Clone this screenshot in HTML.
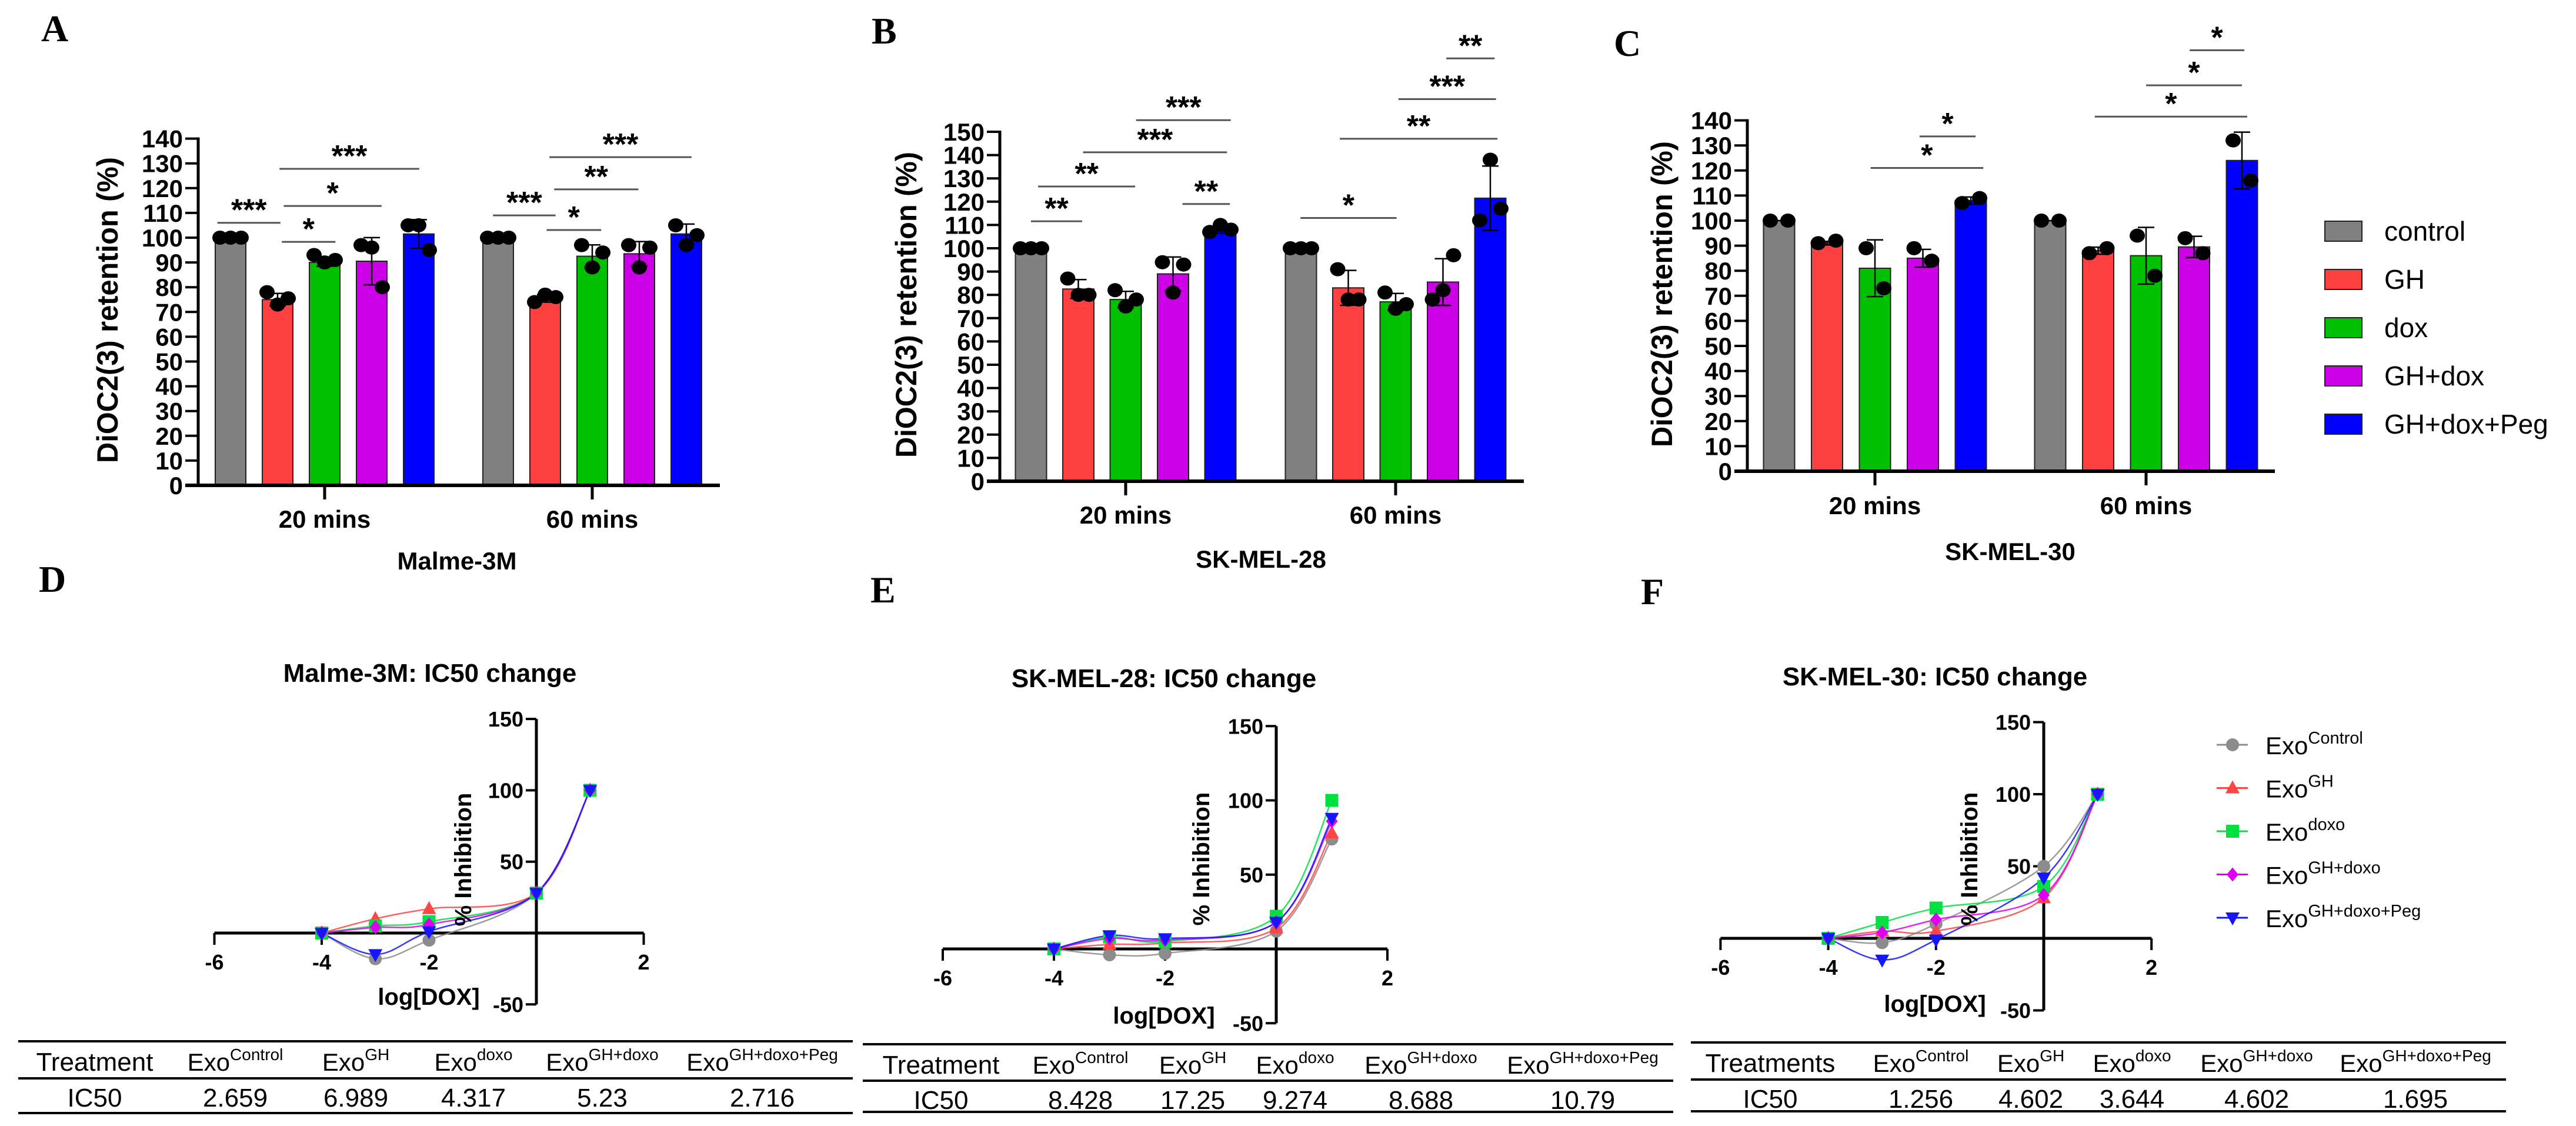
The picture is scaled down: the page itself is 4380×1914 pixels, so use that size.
<!DOCTYPE html>
<html><head><meta charset="utf-8">
<style>
html,body{margin:0;padding:0;background:#fff;}
svg{display:block;font-family:"Liberation Sans",Arial,sans-serif;}
</style></head>
<body>
<svg id="fig" xmlns="http://www.w3.org/2000/svg" width="4380" height="1914" viewBox="0 0 4380 1914">
<rect x="0" y="0" width="4380" height="1914" fill="#fff"/>
<g font-family="Liberation Serif, serif" font-weight="bold" font-size="64">
<text x="70" y="70">A</text>
<text x="1482" y="74">B</text>
<text x="2744" y="95">C</text>
<text x="66" y="1006">D</text>
<text x="1480" y="1024">E</text>
<text x="2790" y="1027">F</text>
</g>
</svg>
<script>
// ---------- DATA ----------
const groups = ['20 mins', '60 mins'];
const seriesNames = ['control', 'GH', 'dox', 'GH+dox', 'GH+dox+Peg'];
const barColors = ['#808080', '#ff4040', '#00c000', '#cc00e6', '#0000ff'];

const aMeans = [[100, 75, 90, 90.5, 101.5], [100, 75.5, 92.5, 93.5, 101.5]];
const aPoints = [
  [[100,100,100],[78,73,75.5],[93,90,91],[97,96,80],[105,105,95]],
  [[100,100,100],[74,77,76],[97,88,94],[97,88,96],[105,97,101]]
];
const aSigs = [
  [0,-0.28,1.06,106,'***'],[0,1.09,2.23,98.3,'*'],[0,1.13,3.21,112.8,'*'],[0,1.04,4.01,127.8,'***'],
  [1,-0.11,1.22,109,'***'],[1,1.03,2.19,103.1,'*'],[1,1.19,2.98,119.5,'**'],[1,1.09,4.11,132.5,'***']
];
const aTicks = [0,10,20,30,40,50,60,70,80,90,100,110,120,130,140];

const bMeans = [[100, 82.5, 78, 89, 108], [100, 83, 77, 85.5, 121.5]];
const bPoints = [
  [[100,100,100],[87,80,80],[82,75,78],[94,81,93],[107,110,108]],
  [[100,100,100],[91,78,78],[81,74,76],[78,82,97],[112,138,117]]
];
const bSigs = [
  [0,0.0,1.08,111.6,'**'],[0,0.15,2.2,126.5,'**'],[0,1.1,4.14,141.2,'***'],[0,2.22,4.22,155,'***'],[0,3.2,4.2,119,'**'],
  [1,-0.01,2.02,113,'*'],[1,0.82,4.15,147,'**'],[1,2.06,4.12,164,'***'],[1,3.07,4.09,181.5,'**']
];
const bTicks = [0,10,20,30,40,50,60,70,80,90,100,110,120,130,140,150];

const cMeans = [[100, 91, 81, 85, 108], [100, 88, 86, 89.5, 124]];
const cPoints = [
  [[100,100],[91,92],[89,73],[89,84],[107,109]],
  [[100,100],[87,89],[94,78],[93,87],[132,116]]
];
const cSigs = [
  [0,1.91,4.26,121,'*'],[0,2.93,4.1,133.6,'*'],
  [1,0.93,4.11,141.5,'*'],[1,2.0,4.0,154,'*'],[1,2.91,4.05,168,'*']
];
const cTicks = [0,10,20,30,40,50,60,70,80,90,100,110,120,130,140];

const doseLog = [-4, -3, -2, 0, 1];
const curveNames = ['Control','GH','doxo','GH+doxo','GH+doxo+Peg'];
const curveColors = ['#8c8c8c','#ff4545','#00e040','#dd00ee','#1515ff'];
const dVals = [[0,-18,-5,28,100],[0,10,17,28,100],[0,5,8,28,100],[0,4,6,28,100],[0,-15,1,28,100]];
const eVals = [[0,-4,-3,12,74],[0,3,4,14,78],[0,8,5,22,100],[0,7,6,18,86],[0,9,7,18,88]];
const fVals = [[0,-3,10,50,100],[0,5,5,28,100],[0,11,21,36,100],[0,4,13,30,100],[0,-15,-1,42,100]];
const lineYTicks = [-50, 50, 100, 150];
const lineXTicks = [-6, -4, -2, 2];

const tableHeads = ['Control','GH','doxo','GH+doxo','GH+doxo+Peg'];
const dIC50 = ['2.659','6.989','4.317','5.23','2.716'];
const eIC50 = ['8.428','17.25','9.274','8.688','10.79'];
const fIC50 = ['1.256','4.602','3.644','4.602','1.695'];

// ---------- HELPERS ----------
const NS = 'http://www.w3.org/2000/svg';
const svg = document.getElementById('fig');
function mk(tag, attrs, parent, txt) {
  const e = document.createElementNS(NS, tag);
  for (const k in attrs) e.setAttribute(k, attrs[k]);
  if (txt !== undefined) e.textContent = txt;
  (parent || svg).appendChild(e);
  return e;
}
function sd(a){const m=a.reduce((s,v)=>s+v,0)/a.length;if(a.length<2)return 0;return Math.sqrt(a.reduce((s,v)=>s+(v-m)*(v-m),0)/(a.length-1));}

// ---------- BAR PANELS ----------
function barPanel(cfg, means, points, sigs, ticks) {
  const g = mk('g', {});
  
  
  const yS = v => cfg.y0 - v * cfg.unit;
  const xS = (gi, pos) => cfg.gcs[gi] + (pos - 2) * cfg.pitch;
  // y ticks
  ticks.forEach(t => {
    const tk = mk('line', {x1: cfg.ax - 22, x2: cfg.ax, y1: yS(t), y2: yS(t), stroke: '#000', 'stroke-width': 4}, g);
    
    
    const tl = mk('text', {x: cfg.ax - 26, y: yS(t) + 15, 'text-anchor': 'end', 'font-size': 42, 'font-weight': 'bold'}, g, String(t));
    
    
  });
  // bars
  means.forEach((row, gi) => {
    row.forEach((v, si) => {
      const cx = xS(gi, si);
      const b = mk('rect', {x: cx - cfg.w / 2, y: yS(v), width: cfg.w, height: yS(0) - yS(v), fill: barColors[si], stroke: '#222', 'stroke-width': 2}, g);
      
      
      const pts = points[gi][si];
      const s = sd(pts);
      const eb = mk('path', {d: `M${cx} ${yS(v - s)}V${yS(v + s)}M${cx - 14} ${yS(v + s)}H${cx + 14}M${cx - 14} ${yS(v - s)}H${cx + 14}`, stroke: '#000', 'stroke-width': 2.5, fill: 'none'}, g);
      
      
      pts.forEach((p, pi) => {
        const off = pts.length === 3 ? (pi - 1) * 18 : (pi - 0.5) * 30;
        const d = mk('ellipse', {cx: cx + off, cy: yS(p), rx: 13, ry: 12, fill: '#000'}, g);
        
        
      });
    });
    const ct = mk('line', {x1: cfg.gcs[gi], x2: cfg.gcs[gi], y1: yS(0), y2: yS(0) + 24, stroke: '#000', 'stroke-width': 5}, g);
    
    
    const cl = mk('text', {x: cfg.gcs[gi], y: cfg.catY, 'text-anchor': 'middle', 'font-size': 42, 'font-weight': 'bold'}, g, groups[gi]);
    
    
  });
  // axes
  const ya = mk('line', {x1: cfg.ax, x2: cfg.ax, y1: yS(ticks[ticks.length - 1]) - 2, y2: yS(0) + 2, stroke: '#000', 'stroke-width': 5}, g);
  
  
  const xa = mk('line', {x1: cfg.ax - 22, x2: cfg.xEnd, y1: yS(0), y2: yS(0), stroke: '#000', 'stroke-width': 6}, g);
  
  
  // sig
  sigs.forEach(s => {
    const x1 = xS(s[0], s[1]), x2 = xS(s[0], s[2]), y = yS(s[3]);
    const l = mk('line', {x1, x2, y1: y, y2: y, stroke: '#555', 'stroke-width': 3}, g);
    
    
    const t = mk('text', {x: (x1 + x2) / 2, y: y - 4, 'text-anchor': 'middle', 'font-size': 52, 'font-weight': 'bold'}, g, s[4]);
    
    
  });
  // titles
  const yt = mk('text', {x: 0, y: 0, transform: `translate(${cfg.ytx},${cfg.yty}) rotate(-90)`, 'text-anchor': 'middle', 'font-size': 50, 'font-weight': 'bold', textLength: 520, lengthAdjust: 'spacingAndGlyphs'}, g, 'DiOC2(3) retention (%)');
  
  
  const xt = mk('text', {x: cfg.ttx, y: cfg.tty, 'text-anchor': 'middle', 'font-size': 42, 'font-weight': 'bold'}, g, cfg.title);
  
  
}
barPanel({name:'panel-a-chart', ax:337, xEnd:1224, y0:825, unit:4.21, gcs:[552,1007], pitch:80, w:52, catY:897, ytx:200, yty:527, ttx:777, tty:968, title:'Malme-3M'}, aMeans, aPoints, aSigs, aTicks);
barPanel({name:'panel-b-chart', ax:1700, xEnd:2591, y0:818, unit:3.96, gcs:[1914,2373], pitch:80.5, w:53, catY:890, ytx:1558, yty:518, ttx:2144, tty:965, title:'SK-MEL-28'}, bMeans, bPoints, bSigs, bTicks);
barPanel({name:'panel-c-chart', ax:2971, xEnd:3868, y0:801, unit:4.26, gcs:[3188,3649], pitch:81.5, w:53, catY:874, ytx:2843, yty:500, ttx:3418, tty:952, title:'SK-MEL-30'}, cMeans, cPoints, cSigs, cTicks);

// legend for bars
seriesNames.forEach((n, i) => {
  const y = 393 + i * 82;
  const r = mk('rect', {x: 3953, y: y - 17, width: 63, height: 34, fill: barColors[i], stroke: '#222', 'stroke-width': 2});
  
  
  const t = mk('text', {x: 4054, y: y + 16, 'font-size': 46}, svg, n);
  
  
});

// ---------- LINE PANELS ----------
function marker(g, k, x, y, color) {
  let e;
  if (k === 0) e = mk('circle', {cx: x, cy: y, r: 11, fill: color}, g);
  else if (k === 1) e = mk('path', {d: `M${x} ${y-13}L${x+12} ${y+9}L${x-12} ${y+9}Z`, fill: color}, g);
  else if (k === 2) e = mk('rect', {x: x - 11, y: y - 11, width: 22, height: 22, fill: color}, g);
  else if (k === 3) e = mk('path', {d: `M${x} ${y-12}L${x+10} ${y}L${x} ${y+12}L${x-10} ${y}Z`, fill: color}, g);
  else e = mk('path', {d: `M${x} ${y+13}L${x+12} ${y-9}L${x-12} ${y-9}Z`, fill: color}, g);
  
  
}
function spline(p) {
  let d = `M${p[0][0]} ${p[0][1]}`;
  for (let i = 0; i < p.length - 1; i++) {
    const p0 = p[i - 1] || p[i], p1 = p[i], p2 = p[i + 1], p3 = p[i + 2] || p2;
    const c1 = [p1[0] + (p2[0] - p0[0]) / 6, p1[1] + (p2[1] - p0[1]) / 6];
    const c2 = [p2[0] - (p3[0] - p1[0]) / 6, p2[1] - (p3[1] - p1[1]) / 6];
    d += `C${c1[0]} ${c1[1]} ${c2[0]} ${c2[1]} ${p2[0]} ${p2[1]}`;
  }
  return d;
}
function linePanel(cfg, vals) {
  const g = mk('g', {});
  
  
  const xS = v => cfg.ax + v * cfg.xu;
  const yS = v => cfg.y0 - v * cfg.yu;
  const tt = mk('text', {x: cfg.tx, y: cfg.ty, 'text-anchor': 'middle', 'font-size': 44, 'font-weight': 'bold'}, g, cfg.title);
  
  
  const xa = mk('line', {x1: xS(-6), x2: xS(2), y1: yS(0), y2: yS(0), stroke: '#000', 'stroke-width': 5}, g);
  
  
  const ya = mk('line', {x1: cfg.ax, x2: cfg.ax, y1: yS(150), y2: yS(-50), stroke: '#000', 'stroke-width': 5}, g);
  
  
  lineYTicks.forEach(t => {
    const tk = mk('line', {x1: cfg.ax - 18, x2: cfg.ax, y1: yS(t), y2: yS(t), stroke: '#000', 'stroke-width': 4}, g);
    
    
    const tl = mk('text', {x: cfg.ax - 22, y: yS(t) + 13, 'text-anchor': 'end', 'font-size': 36, 'font-weight': 'bold'}, g, String(t));
    
    
  });
  lineXTicks.forEach(t => {
    const tk = mk('line', {x1: xS(t), x2: xS(t), y1: yS(0), y2: yS(0) + 20, stroke: '#000', 'stroke-width': 4}, g);
    
    
    const tl = mk('text', {x: xS(t), y: yS(0) + 62, 'text-anchor': 'middle', 'font-size': 36, 'font-weight': 'bold'}, g, String(t));
    
    
  });
  vals.forEach((row, k) => {
    const pts = row.map((v, i) => [xS(doseLog[i]), yS(v)]);
    const c = mk('path', {d: spline(pts), fill: 'none', stroke: curveColors[k], 'stroke-width': 2.5, opacity: 0.85}, g);
    
    
  });
  vals.forEach((row, k) => {
    row.forEach((v, i) => marker(g, k, xS(doseLog[i]), yS(v), curveColors[k]));
  });
  const xt = mk('text', {x: cfg.xtx, y: cfg.xty, 'text-anchor': 'middle', 'font-size': 40, 'font-weight': 'bold'}, g, 'log[DOX]');
  
  
  const yt = mk('text', {x: 0, y: 0, transform: `translate(${cfg.ytx},${cfg.yty}) rotate(-90)`, 'text-anchor': 'middle', 'font-size': 40, 'font-weight': 'bold'}, g, '% Inhibition');
  
  
}
linePanel({name:'panel-d-chart', title:'Malme-3M: IC50 change', tx:731, ty:1159, ax:912, xu:91.25, y0:1586, yu:2.426, xtx:729, xty:1708, ytx:801, yty:1461}, dVals);
linePanel({name:'panel-e-chart', title:'SK-MEL-28: IC50 change', tx:1979, ty:1168, ax:2170, xu:94.5, y0:1613, yu:2.525, xtx:1979, xty:1740, ytx:2056, yty:1460}, eVals);
linePanel({name:'panel-f-chart', title:'SK-MEL-30: IC50 change', tx:3290, ty:1165, ax:3475, xu:91.6, y0:1595, yu:2.45, xtx:3290, xty:1720, ytx:3362, yty:1460}, fVals);

// legend F
curveNames.forEach((n, k) => {
  const y = 1266 + k * 73.5;
  const l = mk('line', {x1: 3769, x2: 3822, y1: y, y2: y, stroke: curveColors[k], 'stroke-width': 3});
  
  
  marker(svg, k, 3796, y, curveColors[k]);
  const t = mk('text', {x: 3852, y: y + 16, 'font-size': 42});
  
  
  mk('tspan', {}, t, 'Exo');
  mk('tspan', {dy: -18, 'font-size': 29}, t, n);
});

// ---------- TABLES ----------
function table(cfg, vals) {
  const g = mk('g', {});
  
  
  cfg.lines.forEach(y => {
    const l = mk('line', {x1: cfg.x1, x2: cfg.x2, y1: y, y2: y, stroke: '#000', 'stroke-width': 4}, g);
    
    
  });
  const h = mk('text', {x: cfg.cols[0], y: cfg.lines[0] + 50, 'text-anchor': 'middle', 'font-size': 44}, g, cfg.head);
  
  
  const r = mk('text', {x: cfg.cols[0], y: cfg.lines[1] + 48, 'text-anchor': 'middle', 'font-size': 44}, g, 'IC50');
  
  
  tableHeads.forEach((n, i) => {
    const t = mk('text', {x: cfg.cols[i + 1], y: cfg.lines[0] + 50, 'text-anchor': 'middle', 'font-size': 42}, g);
    
    
    mk('tspan', {}, t, 'Exo');
    mk('tspan', {dy: -18, 'font-size': 28}, t, n);
    const v = mk('text', {x: cfg.cols[i + 1], y: cfg.lines[1] + 48, 'text-anchor': 'middle', 'font-size': 44}, g, vals[i]);
    
    
  });
}
table({name:'table-d', x1:31, x2:1450, lines:[1770,1833,1892], head:'Treatment', cols:[161,400,605,805,1024,1296]}, dIC50);
table({name:'table-e', x1:1467, x2:2845, lines:[1775,1837,1890], head:'Treatment', cols:[1600,1837,2028,2202,2416,2691]}, eIC50);
table({name:'table-f', x1:2875, x2:4261, lines:[1772,1835,1889], head:'Treatments', cols:[3010,3266,3453,3625,3837,4107]}, fIC50);
</script>
</body></html>
